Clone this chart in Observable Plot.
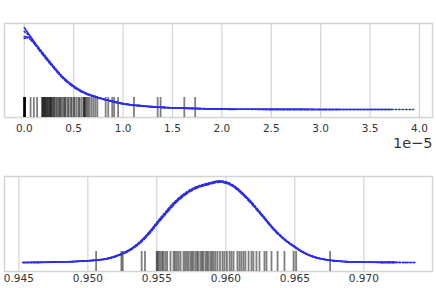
<!DOCTYPE html>
<html><head><meta charset="utf-8">
<script src="https://cdn.jsdelivr.net/npm/d3@7"></script>
<script src="https://cdn.jsdelivr.net/npm/@observablehq/plot@0.6"></script>
<style>
html,body{margin:0;padding:0;background:#fff;}
#c{width:436px;height:288px;overflow:hidden;}
#c svg{display:block;}
</style></head><body><div id="c"></div>
<script>
// ---------- Top panel (x in units of 1e-5) ----------
const topTicks = [0, 0.5, 1.0, 1.5, 2.0, 2.5, 3.0, 3.5, 4.0];
const topGrid = [0, 0.05, 0.1, 0.165, 0.266, 0.4, 0.5, 0.6, 0.74, 0.87, 1.0, 1.2, 1.5, 1.75, 2.0, 2.15, 2.5, 3.0, 3.2, 3.72, 3.94];
const topChain0 = [2.56,2.34,2.12,1.84,1.44,0.97,0.72,0.53,0.375,0.27,0.18,0.11,0.053,0.031,0.0125,0.009,0.005,0.0015,0.001,0,null];
const topChain1 = [2.44,2.30,2.10,1.86,1.47,0.99,0.74,0.54,0.38,0.26,0.17,0.10,0.05,0.03,0.012,0.008,0.004,0.002,0.001,0.0005,0];
const topChain2 = [2.28,2.22,2.06,1.80,1.41,0.95,0.70,0.52,0.37,0.27,0.185,0.115,0.055,0.032,0.014,0.01,0.005,0.002,0,null,null];
const topChain3 = [2.22,2.26,2.08,1.83,1.45,0.98,0.73,0.55,0.39,0.28,0.19,0.11,0.05,0.028,0.01,0,null,null,null,null,null];
const topRug = [0,0,0.001,0.002,0.003,0.004,0.005,0.006,0.008,0.064,0.097,0.13,
  0.18,0.185,0.19,0.2,0.205,0.21,0.22,0.225,0.235,0.24,0.25,0.26,0.265,0.27,0.28,0.29,0.3,0.31,0.325,0.335,0.35,0.36,0.37,0.385,0.4,0.41,0.42,0.44,0.45,0.47,0.48,0.5,0.51,0.53,0.55,0.56,0.58,0.6,0.605,0.61,0.62,0.63,0.645,0.66,0.68,0.7,0.72,0.74,
  0.824,0.85,0.89,0.91,0.95,1.11,1.35,1.38,1.62,1.73];

// ---------- Bottom panel ----------
const botTicks = [0.945, 0.950, 0.955, 0.960, 0.965, 0.970];
const botGrid = [0.9453,0.9475,0.950,0.9515,0.95234,0.953,0.95378,0.9545,0.955,0.9556,0.95618,0.9569,0.95763,0.95883,0.95955,0.960,0.9606,0.96119,0.9618,0.96239,0.963,0.96359,0.9643,0.965,0.9657,0.96647,0.96756,0.9685,0.970,0.9722,0.9737];
const botChain0 = [0,0.56,2.38,5.74,11.06,17.08,28,42.56,54.6,68.32,81.2,93.8,102.9,110.6,113.4,112,106.4,96.6,84.7,71.4,57.4,44.1,31.5,21.7,13.3,7.28,3.08,1.4,0.42,0.14,null];
const botChain1 = [0.05,0.6,2.5,6.0,11.5,17.8,29.2,44.0,56.2,70.0,82.8,95.2,104.0,111.6,114.4,113.0,107.5,97.8,86.0,72.6,58.5,45.0,32.3,22.4,13.8,7.6,3.3,1.5,0.45,0.15,0];
const botChain2 = [null,0.5,2.3,5.5,10.6,16.4,27.0,41.2,53.2,66.8,79.6,92.4,101.8,109.6,112.4,111.0,105.2,95.4,83.4,70.2,56.4,43.3,30.8,21.1,12.9,7.0,2.9,1.3,0.4,0.12,null];
const botChain3 = [0,0.58,2.45,5.9,11.3,17.5,28.6,43.2,55.4,69.2,82.0,94.4,103.3,110.9,113.7,112.4,106.8,97.1,85.2,71.9,57.9,44.6,31.9,22.0,13.5,7.4,3.2,1.45,0.43,0.14,0];
const botRug = [0.9506,0.95243,0.95253,0.9539,0.95414,
  0.95499,0.95505,0.95515,0.95527,0.95539,0.95548,0.95562,0.95575,0.95599,0.95621,0.95632,0.95645,0.95658,0.95672,0.95693,0.95705,0.95718,0.9573,0.95744,0.95755,0.95766,0.9578,0.95792,0.95802,0.95817,0.95828,0.95838,0.95853,0.95864,0.95875,0.95889,0.959,0.95912,0.95925,0.9594,0.95958,0.95976,0.9599,0.96008,0.96027,0.96041,0.96056,0.96084,0.96099,0.96113,0.96128,0.96142,0.96165,0.96186,0.962,0.96222,0.96244,0.9628,0.96295,0.96331,0.96375,0.96425,
  0.96491,0.9651,0.96756];

const chainStyles = [
  {dash: null}, {dash: "1.5,2"}, {dash: "4,2"}, {dash: "6,2,1.5,2"}
];
const BLUE = "#2a2eec";
const FONT = "DejaVu Sans, sans-serif";

function toRows(grid, vals) {
  return grid.map((x, i) => ({x, y: vals[i]})).filter(d => d.y != null);
}

function panel({width, height, mt, mb, xdom, ydom, ticks, fmt, chains, grid, rug, rugTop, pad, extra}) {
  const lines = chains.map((c, i) => Plot.line(toRows(grid, c), {
    x: "x", y: "y", stroke: BLUE, strokeWidth: 1.6, curve: "monotone-x",
    strokeDasharray: chainStyles[i].dash
  }));
  return Plot.plot({
    width, height, marginTop: mt, marginBottom: mb, marginLeft: 4, marginRight: 4,
    style: {fontFamily: FONT, fontSize: "10.5px", color: "#333", background: "#fff"},
    x: {domain: xdom, ticks, tickFormat: fmt, label: null},
    y: {domain: ydom, axis: null},
    marks: [
      Plot.gridX(ticks, {stroke: "#d4d4d4", strokeOpacity: 1, strokeWidth: 1.2}),
      Plot.frame({stroke: "#d4d4d4", strokeWidth: 1.5}),
      Plot.axisX(ticks, {tickSize: 0, tickPadding: pad, tickFormat: fmt, fill: "#333", fontSize: 10.5, label: null}),
      Plot.ruleX(rug, {x: d => d, y1: ydom[0], y2: rugTop, stroke: "black", strokeOpacity: 0.5, strokeWidth: 1.8}),
      ...lines,
      ...(extra || [])
    ]
  });
}

const c = document.getElementById("c");
c.append(panel({
  width: 436, height: 160, mt: 23, mb: 43,
  xdom: [-0.2, 4.132], ydom: [-0.25, 2.69], ticks: topTicks, fmt: d3.format(".1f"),
  chains: [topChain0, topChain1, topChain2, topChain3], grid: topGrid,
  rug: topRug, rugTop: 0.375, pad: 7,
  extra: [Plot.text(["1e\u22125"], {frameAnchor: "bottom-right", text: d => d, dy: 30, dx: 0, lineAnchor: "bottom", fontSize: 14.5, fill: "#333"})]
}));
c.append(panel({
  width: 436, height: 128, mt: 16, mb: 17,
  xdom: [0.94396, 0.97498], ydom: [-12.6, 120.4], ticks: botTicks, fmt: d3.format(".3f"),
  chains: [botChain0, botChain1, botChain2, botChain3], grid: botGrid,
  rug: botRug, rugTop: 15.4, pad: 3
}));
</script></body></html>
